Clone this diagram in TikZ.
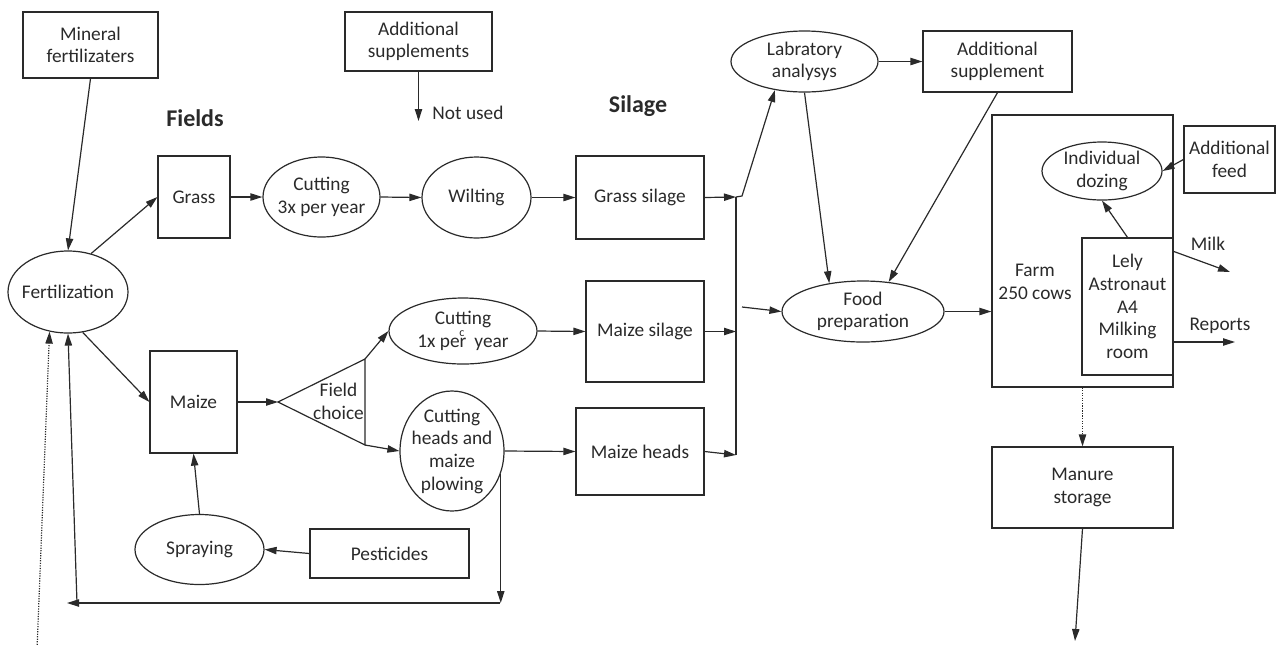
\documentclass[tikz,border=0pt]{standalone}
\usepackage{fontspec}
\setmainfont{Carlito}
\usetikzlibrary{arrows.meta,shapes.geometric,calc}
\definecolor{ink}{HTML}{2A2A2A}
\begin{document}
\begin{tikzpicture}[x=0.75pt,y=-0.75pt,
  every node/.style={font=\fontsize{14.5}{17}\selectfont, text=ink, align=center},
  box/.style 2 args={draw=ink, line width=0.9pt, rectangle, inner sep=0pt,
    minimum width=#1*0.75pt, minimum height=#2*0.75pt},
  oval/.style 2 args={draw=ink, line width=0.9pt, ellipse, inner sep=-6pt,
    minimum width=#1*0.75pt, minimum height=#2*0.75pt},
  arr/.style={draw=ink, line width=0.9pt, -{Triangle[length=9pt,width=5.5pt]}},
  plain/.style={draw=ink, line width=0.9pt},
  dotarr/.style={arr, densely dotted},
  heading/.style={font=\fontsize{18}{22}\selectfont\bfseries}]
\useasboundingbox (0,0) rectangle (1280,644);

% ---- inputs and headings ----
\node[box={135}{66}] (mineral) at (90.5,45) {Mineral\\fertilizaters};
\node[box={147}{59}] (addsupps) at (418.5,41.5) {Additional\\supplements};
\coordinate (notusedtip) at (418.5,121);
\node (notused) at (468,113) {Not used};
\node[heading] (fields) at (195,118) {Fields};
\node[heading] (silage) at (638,106) {Silage};

% ---- fields ----
\node[oval={120}{82}] (fert) at (68,292) {Fertilization};
\node[box={72}{82}] (grass) at (194,197) {Grass};
\node[oval={117}{80}] (cut3) at (321.5,197) {Cutting\\3x per year};
\node[oval={109}{81}] (wilt) at (476.5,197.5) {Wilting};
\node[box={87}{102}] (maize) at (193.5,402) {Maize};

% field choice triangle
\coordinate (tril) at (278,402);
\coordinate (trit) at (365,359);
\coordinate (trib) at (365,445);
\draw[plain, line join=miter] (tril) -- (trit) -- (trib) -- cycle;
\node (trilbl) at (338.5,401.5) {Field\\choice};

\node[oval={148}{66}] (cut1) at (463,331) {Cutting\\1x per\hspace{6pt}year};
\node[font=\fontsize{9}{10}\selectfont, inner sep=0pt] (cmark) at (462,334) {c};
\node[oval={104}{120}] (cuth) at (452,451) {Cutting\\heads and\\maize\\plowing};
\node[oval={129}{70}] (spray) at (199.5,549.5) {Spraying};
\node[box={159}{49}] (pest) at (389.5,553.5) {Pesticides};

% ---- silage ----
\node[box={128}{83}] (gsil) at (640,197.5) {Grass silage};
\node[box={118}{101}] (msil) at (645,331.5) {Maize silage};
\node[box={128}{87}] (mheads) at (640,451.5) {Maize heads};

% ---- feeding and farm ----
\node[oval={147}{61}] (lab) at (804.5,61.5) {Labratory\\analysys};
\node[box={149}{61}] (addsupp) at (997.5,61.5) {Additional\\supplement};
\node[oval={162}{61}] (food) at (863,311.5) {Food\\preparation};
\node[box={181}{272}] (farm) at (1082.5,251) {};
\node (farmlbl) at (1035,282) {Farm\\250 cows};
\node[box={91}{137}] (lely) at (1127.5,306.5) {Lely\\Astronaut\\A4\\Milking\\room};
\node[oval={120}{58}] (dozing) at (1102,171) {Individual\\dozing};
\node[box={91}{67}] (addfeed) at (1229.5,159.5) {Additional\\feed};
\node[box={181}{81}] (manure) at (1082.5,487.5) {Manure\\storage};

% ---- free ends ----
\coordinate (j1) at (736,197);
\coordinate (j2) at (736,331.5);
\coordinate (j3) at (736,455);
\coordinate (jl) at (742,196);
\coordinate (jf) at (742,307);
\coordinate (ret) at (500,603);
\coordinate (retend) at (67,603);
\coordinate (up) at (77,603);
\coordinate (dotstart) at (37,650);
\coordinate (milkend) at (1230,272);
\coordinate (repend) at (1235,342);
\coordinate (manend) at (1075,641);
\node (milk) at (1208,244) {Milk};
\node (reports) at (1220,326) {Reports};

% ---- connectors: fields ----
\draw[arr] (addsupps.south) -- (notusedtip);
\draw[arr] (mineral.south) -- (fert.north);
\draw[arr] (fert.59) -- (grass.west);
\draw[arr] (fert.-70) -- (maize.west);
\draw[arr] (grass.east) -- (cut3.west);
\draw[arr] (cut3.east) -- (wilt.west);
\draw[arr] (wilt.east) -- (gsil.west);
\draw[arr] (maize.east) -- (tril);
\draw[arr] (trit) -- (cut1.west);
\draw[arr] (trib) -- (cuth.west);
\draw[arr] (cut1.east) -- (msil.west);
\draw[arr] (cuth.east) -- (mheads.west);
\draw[arr] (pest.west) -- (spray.east);
\draw[arr] (spray.north) -- (maize.south);
\draw[arr] (cuth.-25) -- (cuth.-25 |- ret);
\draw[arr] (ret) -- (retend);
\draw[arr] (up) -- (fert.south);
\draw[dotarr] (dotstart) -- (fert.-115);

% ---- connectors: silage to feeding ----
\draw[plain] (j1) -- (j3);
\draw[arr] (gsil.east) -- (j1);
\draw[arr] (msil.east) -- (j2);
\draw[arr] (mheads.east) -- (j3);
\draw[arr] (j1) -- (jl) -- (lab.-136);
\draw[arr] (jf) -- (food.west);
\draw[arr] (lab.east) -- (addsupp.west);
\draw[arr] (lab.south) -- (food.140);
\draw[arr] (addsupp.south) -- (food.49);
\draw[arr] (food.east) -- (food.east -| farm.west);

% ---- connectors: farm ----
\draw[arr] (addfeed.west) -- (dozing.east);
\draw[arr] (lely.north) -- (dozing.south);
\draw[arr] ($(lely.north east)+(0,14)$) -- (milkend);
\draw[arr] (lely.east |- repend) -- (repend);
\draw[dotarr] (farm.south) -- (manure.north);
\draw[arr] (manure.south) -- (manend);
\end{tikzpicture}
\end{document}
